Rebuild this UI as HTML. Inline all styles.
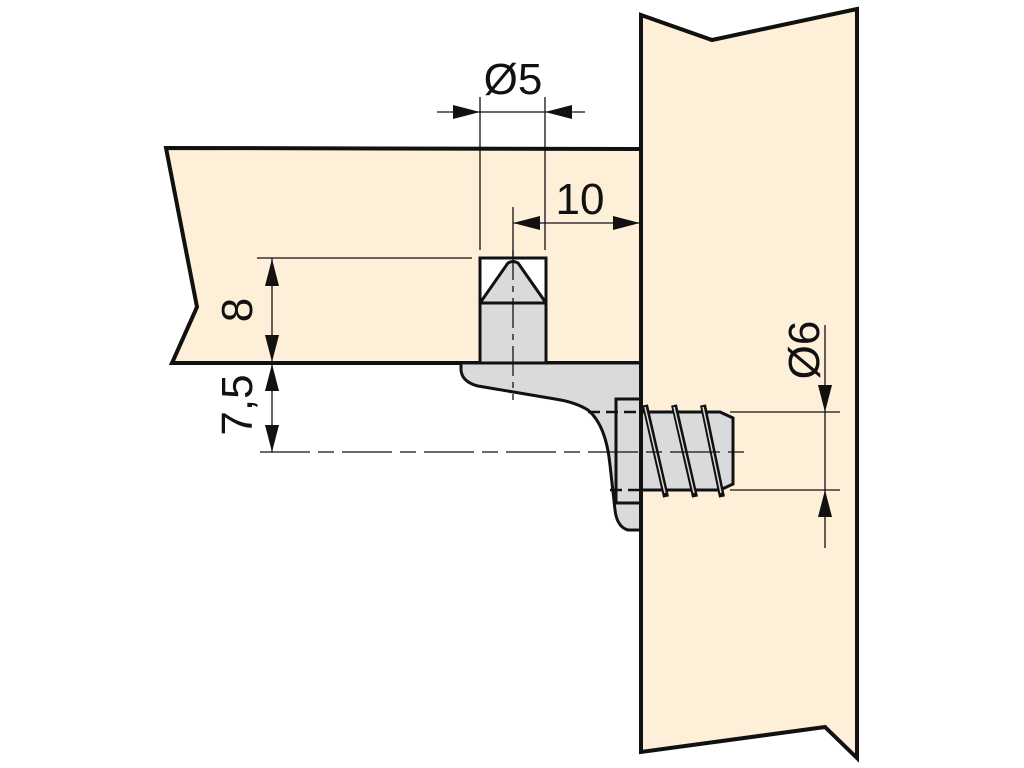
<!DOCTYPE html>
<html><head><meta charset="utf-8"><style>html,body{margin:0;padding:0;background:#fff}svg{display:block}</style></head>
<body>
<svg width="1024" height="768" viewBox="0 0 1024 768" xmlns="http://www.w3.org/2000/svg" font-family="Liberation Sans, sans-serif">
<!-- vertical board -->
<polygon points="641,15 712,40 857,9 857,758 825,727 641,752" fill="#fdefd8" stroke="#111" stroke-width="4" stroke-linejoin="miter"/>
<!-- shelf -->
<polygon points="166,148 641,149 641,363 172,363 197,307" fill="#fdefd8" stroke="#111" stroke-width="4"/>
<!-- bracket -->
<path d="M461,363 L641,363 L641,530 L628,530 Q617,527 615,510 L610,465 Q606,425 588,410 Q575,402 555,399 L478,386 Q462,382 461,370 Z" fill="#d9dadc" stroke="#111" stroke-width="3"/>
<!-- pin -->
<rect x="480" y="258" width="66" height="105" fill="#fff" stroke="#111" stroke-width="3"/>
<path d="M480,303 L508,263 Q513,260 518,263 L546,303 L546,363 L480,363 Z" fill="#d9dadc" stroke="#111" stroke-width="3"/>
<line x1="480" y1="303" x2="546" y2="303" stroke="#111" stroke-width="3"/>
<line x1="513" y1="250" x2="513" y2="400" stroke="#111" stroke-width="1.3" stroke-dasharray="30,6,6,6"/>
<!-- screw -->
<path d="M641,412 L720,412 L733,418 L733,484 L720,490 L641,490 Z" fill="#d9dadc" stroke="#111" stroke-width="3"/>
<g stroke="#111" stroke-width="6" fill="none">
<line x1="645" y1="405" x2="666" y2="497"/>
<line x1="674" y1="405" x2="695" y2="497"/>
<line x1="703" y1="405" x2="722" y2="497"/>
</g>
<g stroke="#d9dadc" stroke-width="1.5" fill="none">
<line x1="645" y1="407" x2="665" y2="493"/>
<line x1="674" y1="407" x2="694" y2="493"/>
<line x1="703" y1="407" x2="721" y2="493"/>
</g>
<rect x="616" y="399" width="25" height="104" fill="none" stroke="#111" stroke-width="3"/>
<line x1="588" y1="412" x2="641" y2="412" stroke="#111" stroke-width="2.5" stroke-dasharray="12,6"/>
<line x1="610" y1="490" x2="641" y2="490" stroke="#111" stroke-width="2.5" stroke-dasharray="12,6"/>
<line x1="641" y1="363" x2="641" y2="752" stroke="#111" stroke-width="4"/>
<!-- centre line -->
<line x1="260" y1="452" x2="750" y2="452" stroke="#111" stroke-width="1.3" stroke-dasharray="50,8,16,8"/>
<!-- dimensions -->
<g stroke="#111" stroke-width="1.3" fill="none">
<line x1="480" y1="97" x2="480" y2="250"/>
<line x1="545" y1="97" x2="545" y2="250"/>
<line x1="437" y1="112" x2="585" y2="112"/>
<line x1="513" y1="207" x2="513" y2="258"/>
<line x1="513" y1="223" x2="640" y2="223"/>
<line x1="257" y1="258" x2="472" y2="258"/>
<line x1="272" y1="258" x2="272" y2="452"/>
<line x1="730" y1="412" x2="840" y2="412"/>
<line x1="730" y1="490" x2="840" y2="490"/>
<line x1="825" y1="325" x2="825" y2="548"/>
</g>
<g fill="#111">
<polygon points="480,112 453,105 453,119"/>
<polygon points="545,112 572,105 572,119"/>
<polygon points="513,223 540,216 540,230"/>
<polygon points="640,223 613,216 613,230"/>
<polygon points="272,259 265,286 279,286"/>
<polygon points="272,362 265,335 279,335"/>
<polygon points="272,364 265,391 279,391"/>
<polygon points="272,452 265,425 279,425"/>
<polygon points="825,412 818,385 832,385"/>
<polygon points="825,490 818,517 832,517"/>
</g>
<g fill="#111" font-size="44">
<text x="513" y="94" text-anchor="middle">Ø5</text>
<text x="580" y="214" text-anchor="middle">10</text>
<text transform="translate(252,310) rotate(-90)" text-anchor="middle">8</text>
<text transform="translate(252,405) rotate(-90)" text-anchor="middle">7,5</text>
<text transform="translate(819,350) rotate(-90)" text-anchor="middle">Ø6</text>
</g>
</svg>
</body></html>
